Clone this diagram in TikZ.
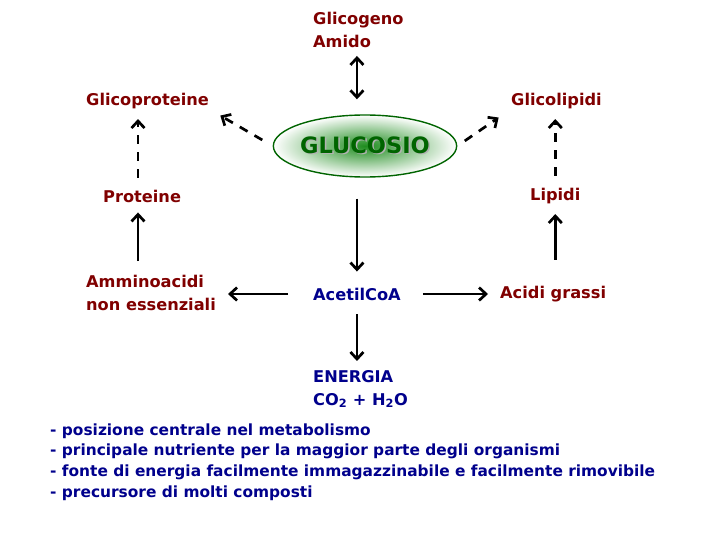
\documentclass[tikz,border=0pt]{standalone}
\usepackage{fontspec}
\setmainfont{DejaVu Sans}
\usetikzlibrary{arrows.meta,shapes.geometric}
\definecolor{labred}{RGB}{128,0,0}
\definecolor{labblue}{RGB}{0,0,140}
\definecolor{glugreen}{RGB}{0,100,0}
\definecolor{glucore}{RGB}{30,140,30}
\tikzset{
  lab/.style={anchor=west,inner sep=0pt,align=left,font=\bfseries\fontsize{16.2}{23}\selectfont},
  arr/.style={line width=2.7pt,-{Straight Barb[length=7pt,width=13pt]}},
  darr/.style={arr,dash pattern=on 9pt off 8pt}
}
\newcommand{\shadowed}[1]{\makebox[0pt][l]{\hspace{1.5pt}\raisebox{-1.5pt}{\color{black!30}#1}}#1}
\begin{document}
\begin{tikzpicture}[x=1pt,y=-1pt]
\useasboundingbox (0,0) rectangle (720,540);
% central molecule
\node[ellipse,draw=glugreen,line width=1.4pt,inner color=glucore,outer color=white,
  minimum width=182pt,minimum height=62pt,inner sep=0pt] (glucosio) at (365,146)
  {\bfseries\fontsize{22.5}{24}\selectfont\color{glugreen}\shadowed{GLUCOSIO}};
% labels
\node[lab,labred] (glicogeno) at (313,30) {Glicogeno\\Amido};
\node[lab,labred] (glicoprot) at (86,101) {Glicoproteine};
\node[lab,labred] (glicolip) at (511,101) {Glicolipidi};
\node[lab,labred] (proteine) at (103,196) {Proteine};
\node[lab,labred] (lipidi) at (530,196) {Lipidi};
\node[lab,labred] (ammino) at (86,293) {Amminoacidi\\non essenziali};
\node[lab,labblue] (acetil) at (313,294) {AcetilCoA};
\node[lab,labred] (acidi) at (500,294) {Acidi grassi};
\node[lab,labblue] (energia) at (313,389) {ENERGIA\\CO\textsubscript{2} + H\textsubscript{2}O};
\node[lab,labblue,font=\bfseries\fontsize{15.4}{20.7}\selectfont] (notes) at (50,462)
  {- posizione centrale nel metabolismo\\
   - principale nutriente per la maggior parte degli organismi\\
   - fonte di energia facilmente immagazzinabile e facilmente rimovibile\\
   - precursore di molti composti};
% arrows
\draw[arr,{Straight Barb[length=7pt,width=13pt]}-{Straight Barb[length=7pt,width=13pt]},shorten <=8pt,shorten >=15pt]
  (glicogeno.south -| acetil) -- (glucosio.north -| acetil);
\draw[darr,shorten <=12pt,shorten >=13pt] (glucosio.west) -- (glicoprot.south east);
\draw[darr,shorten <=9pt,shorten >=15pt] (glucosio.east) -- (glicolip.south west);
\draw[arr,shorten <=21pt,shorten >=16pt] (glucosio.south -| acetil) -- (acetil.north);
\draw[arr,shorten <=14pt,shorten >=9pt] (acetil.south) -- (energia.north -| acetil.south);
\draw[arr,shorten <=25pt,shorten >=12pt] (acetil.west) -- (acetil.west -| ammino.east);
\draw[arr,shorten <=22pt,shorten >=12pt] (acetil.east) -- (acidi.west);
\draw[arr,shorten <=14pt,shorten >=10pt] (ammino.north -| 138,0) -- (proteine.south -| 138,0);
\draw[darr,shorten <=12pt,shorten >=10pt] (proteine.north -| 138,0) -- (glicoprot.south -| 138,0);
\draw[arr,shorten <=26pt,shorten >=10pt] (acidi.north -| lipidi) -- (lipidi.south);
\draw[darr,shorten <=12pt,shorten >=10pt] (lipidi.north) -- (glicolip.south -| lipidi);
\end{tikzpicture}
\end{document}
